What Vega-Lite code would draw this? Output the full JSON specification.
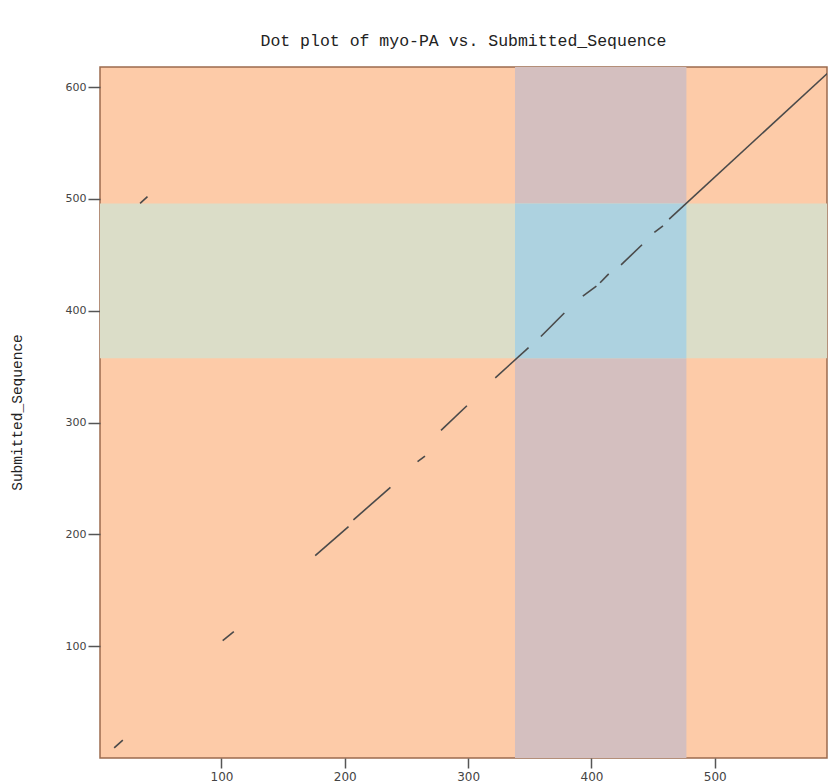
{
  "$schema": "https://vega.github.io/schema/vega-lite/v6.json",
  "width": 727,
  "height": 691,
  "autosize": "none",
  "padding": {"left": 100, "top": 67, "right": 1, "bottom": 26},
  "background": "white",
  "title": {
    "text": "Dot plot of myo-PA vs. Submitted_Sequence",
    "font": "Liberation Mono",
    "fontSize": 16.5,
    "fontWeight": "normal",
    "color": "#222222",
    "anchor": "middle",
    "baseline": "alphabetic",
    "offset": 5
  },
  "config": {
    "view": {"fill": "#FDCBA8", "stroke": "#9C6B4E", "strokeWidth": 1.5}
  },
  "datasets": {
    "regions": [
      {"region": "col", "x": 338, "x2": 477, "y": 0, "y2": 618},
      {"region": "row", "x": 1.5, "x2": 591, "y": 357.5, "y2": 496},
      {"region": "both", "x": 338, "x2": 477, "y": 357.5, "y2": 496}
    ],
    "segments": [
      {"x": 13, "y": 9, "x2": 20, "y2": 16},
      {"x": 34, "y": 496, "x2": 40, "y2": 502},
      {"x": 101, "y": 105, "x2": 110, "y2": 113},
      {"x": 176, "y": 181, "x2": 203, "y2": 207},
      {"x": 207, "y": 213, "x2": 237, "y2": 242},
      {"x": 259, "y": 265, "x2": 265, "y2": 270},
      {"x": 278, "y": 293, "x2": 299, "y2": 315},
      {"x": 322, "y": 340, "x2": 349, "y2": 367},
      {"x": 359, "y": 377, "x2": 378, "y2": 398},
      {"x": 393, "y": 413, "x2": 404, "y2": 422},
      {"x": 407, "y": 425, "x2": 414, "y2": 433},
      {"x": 424, "y": 441, "x2": 441, "y2": 459},
      {"x": 451, "y": 470, "x2": 458, "y2": 476},
      {"x": 463, "y": 482, "x2": 595, "y2": 616}
    ]
  },
  "layer": [
    {
      "data": {"name": "regions"},
      "mark": {"type": "rect", "clip": true},
      "encoding": {
        "x": {
          "field": "x", "type": "quantitative",
          "scale": {"domain": [1.5, 591], "nice": false, "zero": false},
          "axis": {
            "values": [100, 200, 300, 400, 500],
            "title": null, "grid": false, "domain": false,
            "tickSize": 10, "tickWidth": 1.5, "tickColor": "#555555",
            "labelFont": "DejaVu Sans", "labelFontSize": 12, "labelColor": "#444444",
            "labelPadding": 3
          }
        },
        "x2": {"field": "x2"},
        "y": {
          "field": "y", "type": "quantitative",
          "scale": {"domain": [0, 618], "nice": false, "zero": false},
          "axis": {
            "values": [100, 200, 300, 400, 500, 600],
            "title": "Submitted_Sequence",
            "titleFont": "Liberation Mono", "titleFontSize": 14.5, "titleFontWeight": "normal",
            "titleColor": "#222222",
            "titleX": -83, "titleY": 345, "titleAngle": 270,
            "titleAlign": "center", "titleBaseline": "middle",
            "grid": false, "domain": false,
            "tickSize": 12, "tickWidth": 1.5, "tickColor": "#555555",
            "labelFont": "DejaVu Sans", "labelFontSize": 11, "labelColor": "#444444",
            "labelPadding": 2
          }
        },
        "y2": {"field": "y2"},
        "color": {
          "field": "region", "type": "nominal",
          "scale": {"domain": ["col", "row", "both"], "range": ["#D4BFBF", "#DBDDC8", "#ADD2E0"]},
          "legend": null
        }
      }
    },
    {
      "data": {"name": "segments"},
      "mark": {"type": "rule", "clip": true, "color": "#4A4A4A", "strokeWidth": 1.6},
      "encoding": {
        "x": {"field": "x", "type": "quantitative"},
        "x2": {"field": "x2"},
        "y": {"field": "y", "type": "quantitative"},
        "y2": {"field": "y2"}
      }
    }
  ]
}
